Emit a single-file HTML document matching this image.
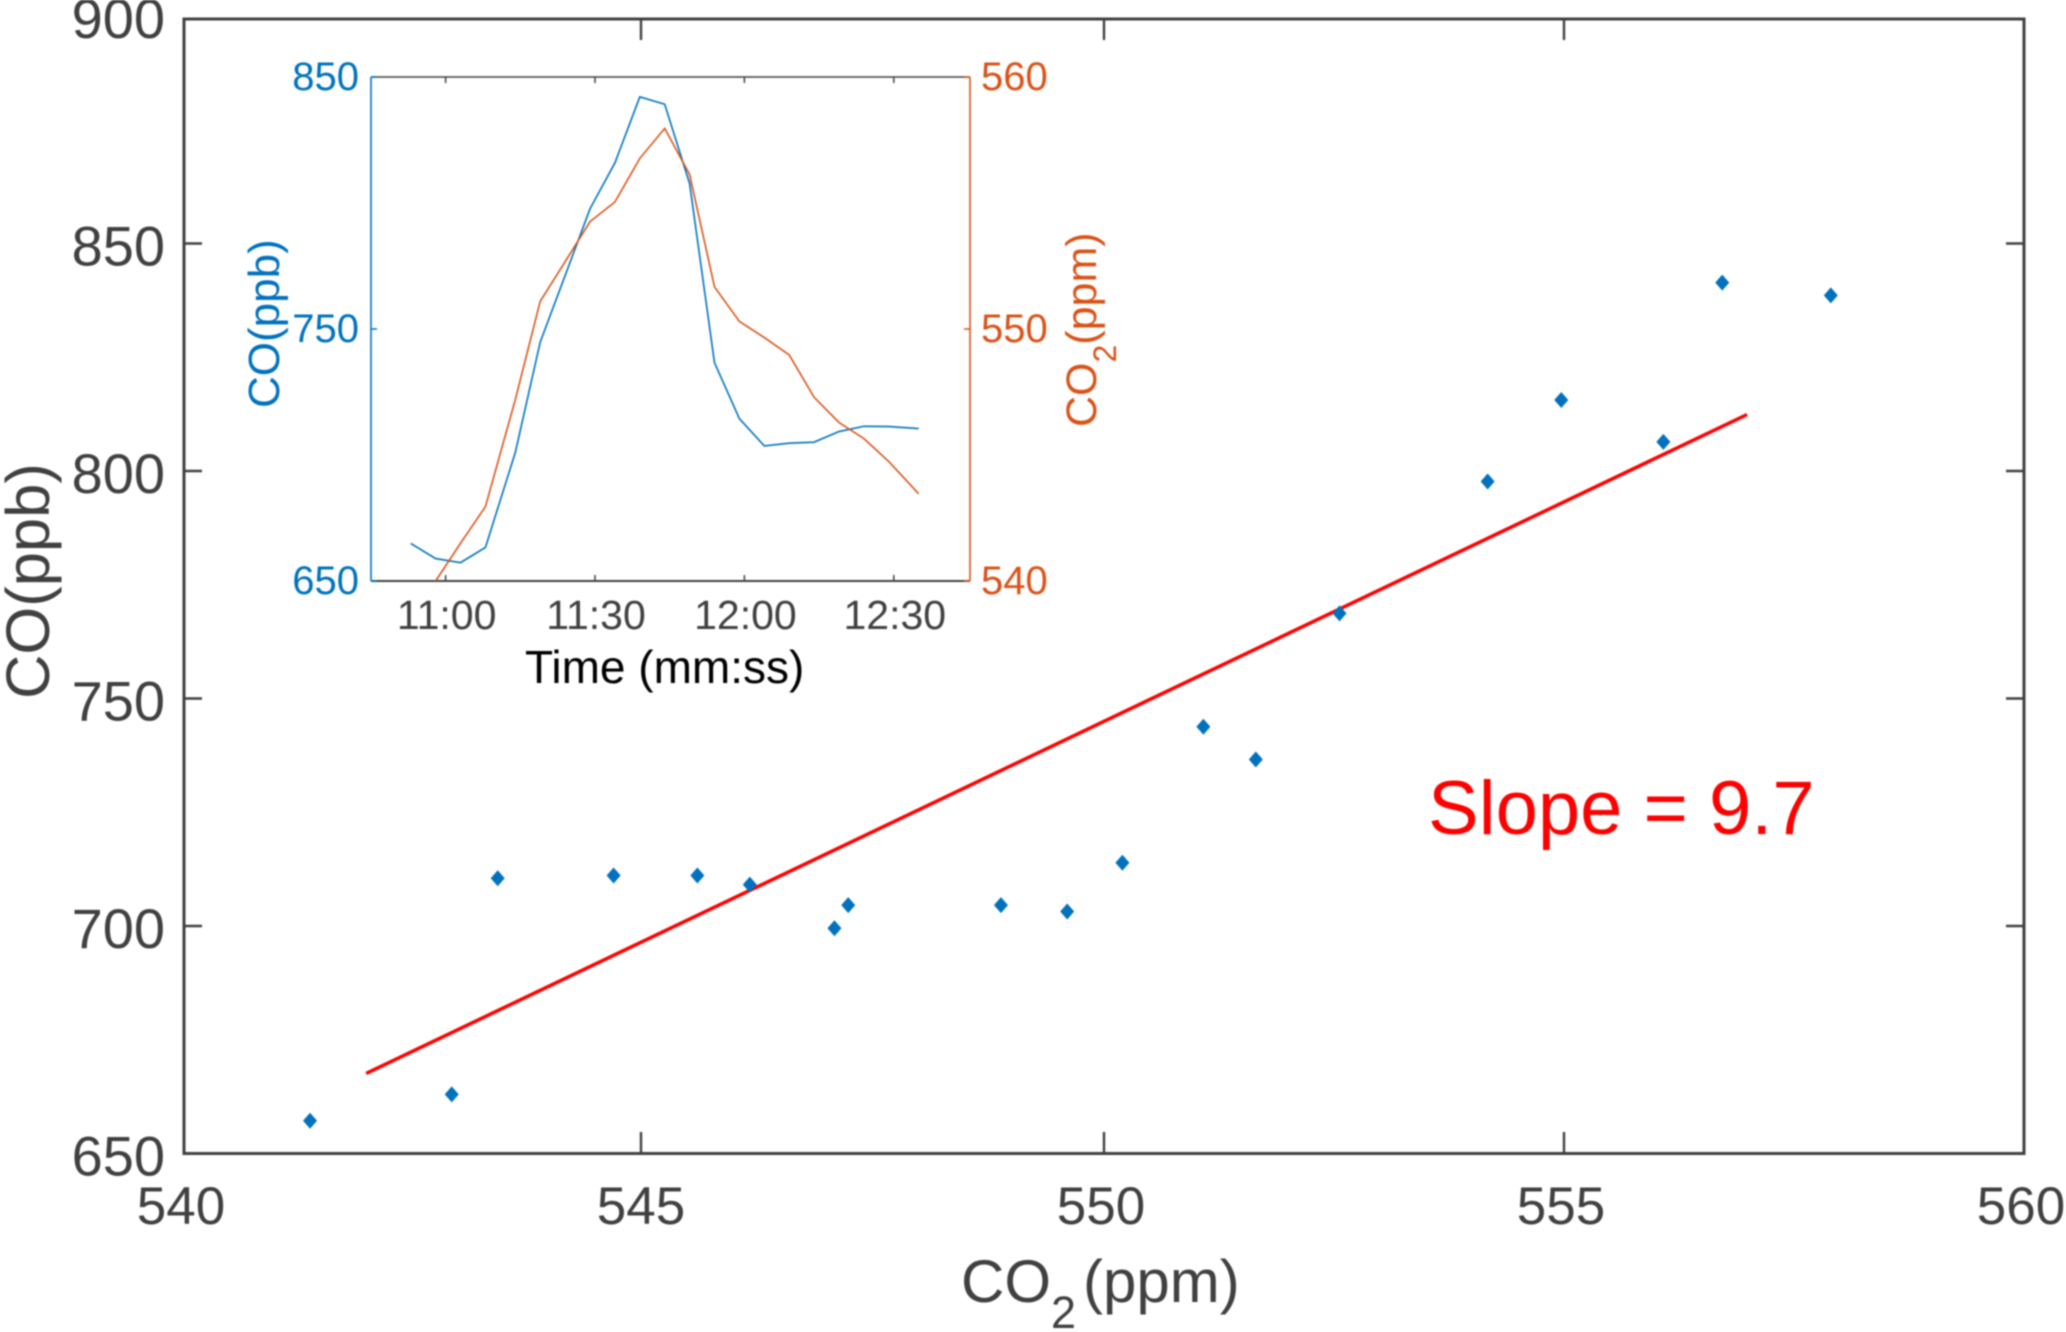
<!DOCTYPE html>
<html lang="en">
<head>
<meta charset="utf-8">
<title>CO vs CO2 scatter with time-series inset</title>
<style>
html,body{margin:0;padding:0;background:#fff;width:2066px;height:1332px;overflow:hidden}
svg{display:block;filter:blur(0.8px)}
text{font-family:"Liberation Sans",Arial,sans-serif}
</style>
</head>
<body>
<svg id="chart" xmlns="http://www.w3.org/2000/svg" width="2066" height="1332" viewBox="0 0 2066 1332">
  <rect x="0" y="0" width="2066" height="1332" fill="#fff"/>
  <g id="main"></g>
  <g id="inset"></g>
  <text transform="translate(49,699) rotate(-90)" font-size="61.5" fill="#404040">CO(ppb)</text>
  <text x="961" y="1302" font-size="60" fill="#404040">CO<tspan font-size="45" dy="26">2</tspan><tspan dx="7" dy="-26">(ppm)</tspan></text>
  <text x="1428" y="834" font-size="76" fill="#ff0000">Slope = 9.7</text>
  <text x="525" y="683" font-size="46" fill="#000">Time (mm:ss)</text>
  <text transform="translate(279,408) rotate(-90)" font-size="44" fill="#0072bd">CO(ppb)</text>
  <text transform="translate(1096,427) rotate(-90)" font-size="43" fill="#d95319">CO<tspan font-size="32" dy="20">2</tspan><tspan dy="-20">(ppm)</tspan></text>
</svg>
<script>
// Main scatter data
const scatterCO2 = [541.37,542.91,543.41,544.67,545.58,546.15,547.07,547.22,548.88,549.6,550.2,551.08,551.65,552.56,554.17,554.97,556.08,556.72,557.9];
const scatterCO = [657.2,663,710.5,711.1,711.1,709.1,699.5,704.6,704.6,703.2,713.9,743.8,736.6,768.7,797.7,815.6,806.4,841.4,838.6];
const fitCO2 = [541.98,556.99];
const fitCO = [667.6,812.4];
const mainXTicks = [540,545,550,555,560];
const mainYTicks = [650,700,750,800,850,900];

// Inset time series data
const timeSeconds = [653,658,663,668,674,679,684,689,694,699,704,709,714,719,724,729,734,739,744,749,755];
const coSeries = [664.9,658.9,657.3,663.3,701,744.8,771.2,797.7,815.9,842.1,839.2,807.7,736.6,714.4,703.6,704.7,705.1,709.3,711.4,711.3,710.5];
const co2Time = [658,663,668,674,679,684,689,694,699,704,709,714,719,724,729,734,739,744,749,755];
const co2Series = [540,541.5,542.95,547.2,551.1,552.67,554.26,555.04,556.77,557.96,556.13,551.67,550.3,549.66,548.97,547.29,546.29,545.65,544.74,543.46];
const insetTimeTicks = [660,690,720,750];
const insetTimeLabels = ['11:00','11:30','12:00','12:30'];
const insetCOTicks = [650,750,850];
const insetCO2Ticks = [540,550,560];

// Axis functions
const mx = v => 184 + (v - 540) * 92;
const my = v => 1153.5 - (v - 650) * 4.55;
const ix = s => 445.6 + (s - 660) * 4.98;
const iyCO = v => 581 - (v - 650) * 2.52;
const iyCO2 = v => 581 - (v - 540) * 25.2;

const NS = 'http://www.w3.org/2000/svg';
function mk(parent, tag, attrs, txt) {
  const el = document.createElementNS(NS, tag);
  for (const k in attrs) el.setAttribute(k, attrs[k]);
  if (txt !== undefined) el.textContent = txt;
  parent.appendChild(el);
  return el;
}
const main = document.getElementById('main');
const inset = document.getElementById('inset');
const DARK = '#404040', BLUE = '#0072bd', ORANGE = '#d95319';

// ---- main plot ----
let el = mk(main, 'rect', {x: mx(540), y: 19, width: mx(560) - mx(540), height: 1134.5, fill: 'none', stroke: DARK, 'stroke-width': 3});



mainXTicks.forEach(v => {
  const x = mx(v);
  if (v > 540 && v < 560) {
    const tx = v === 545 ? x - 3 : x;
    const a = mk(main, 'line', {x1: tx, x2: tx, y1: 1153, y2: 1132, stroke: DARK, 'stroke-width': 2.4});
    
    
    const b = mk(main, 'line', {x1: tx, x2: tx, y1: 19, y2: 40, stroke: DARK, 'stroke-width': 2.4});
    
    
  }
  const t = mk(main, 'text', {x: x - 3, y: 1224, 'text-anchor': 'middle', 'font-size': 53, fill: DARK}, String(v));
  
  
});

mainYTicks.forEach(v => {
  const y = my(v);
  if (v > 650 && v < 900) {
    const a = mk(main, 'line', {x1: 184, x2: 202, y1: y, y2: y, stroke: DARK, 'stroke-width': 2.4});
    
    
    const b = mk(main, 'line', {x1: 2024.5, x2: 2006, y1: y, y2: y, stroke: DARK, 'stroke-width': 2.4});
    
    
  }
  const t = mk(main, 'text', {x: 165, y: y + 22, 'text-anchor': 'end', 'font-size': 56, fill: DARK}, String(v));
  
  
});

el = mk(main, 'line', {x1: mx(fitCO2[0]), y1: my(fitCO[0]), x2: mx(fitCO2[1]), y2: my(fitCO[1]), stroke: '#ff0000', 'stroke-width': 3.5});



scatterCO2.forEach((c, i) => {
  const x = mx(c), y = my(scatterCO[i]);
  const p = mk(main, 'polygon', {points: `${x - 7},${y} ${x},${y - 8} ${x + 7},${y} ${x},${y + 8}`, fill: BLUE});
  
  
});

// ---- inset plot ----
el = mk(inset, 'rect', {x: 371, y: 77, width: 599, height: 504, fill: '#fff', stroke: 'none'});



el = mk(inset, 'line', {x1: 371, x2: 970, y1: 77, y2: 77, stroke: DARK, 'stroke-width': 1.5});



el = mk(inset, 'line', {x1: 371, x2: 970, y1: 581, y2: 581, stroke: DARK, 'stroke-width': 2});



el = mk(inset, 'line', {x1: 371, x2: 371, y1: 77, y2: 581, stroke: BLUE, 'stroke-width': 1.6});



el = mk(inset, 'line', {x1: 970, x2: 970, y1: 77, y2: 581, stroke: ORANGE, 'stroke-width': 1.6});



insetTimeTicks.forEach((s, i) => {
  const x = ix(s);
  const a = mk(inset, 'line', {x1: x, x2: x, y1: 581, y2: 575, stroke: DARK, 'stroke-width': 1.5});
  
  
  const b = mk(inset, 'line', {x1: x, x2: x, y1: 77, y2: 83, stroke: DARK, 'stroke-width': 1.5});
  
  
  const t = mk(inset, 'text', {x: x + 1, y: 629, 'text-anchor': 'middle', 'font-size': 41, fill: DARK}, insetTimeLabels[i]);
  
  
});

insetCOTicks.forEach(v => {
  const y = iyCO(v);
  const a = mk(inset, 'line', {x1: 371, x2: 377, y1: y, y2: y, stroke: BLUE, 'stroke-width': 1.5});
  
  
  const t = mk(inset, 'text', {x: 359, y: y + 13, 'text-anchor': 'end', 'font-size': 40, fill: BLUE}, String(v));
  
  
});

insetCO2Ticks.forEach(v => {
  const y = iyCO2(v);
  const a = mk(inset, 'line', {x1: 964, x2: 970, y1: y, y2: y, stroke: ORANGE, 'stroke-width': 1.5});
  
  
  const t = mk(inset, 'text', {x: 981, y: y + 13, 'font-size': 40, fill: ORANGE}, String(v));
  
  
});

el = mk(inset, 'polyline', {points: timeSeconds.map((s, i) => ix(s) + ',' + iyCO(coSeries[i])).join(' '), fill: 'none', stroke: BLUE, 'stroke-width': 1.6});



el = mk(inset, 'polyline', {points: co2Time.map((s, i) => ix(s) + ',' + iyCO2(co2Series[i])).join(' '), fill: 'none', stroke: ORANGE, 'stroke-width': 1.6});


</script>
</body>
</html>
